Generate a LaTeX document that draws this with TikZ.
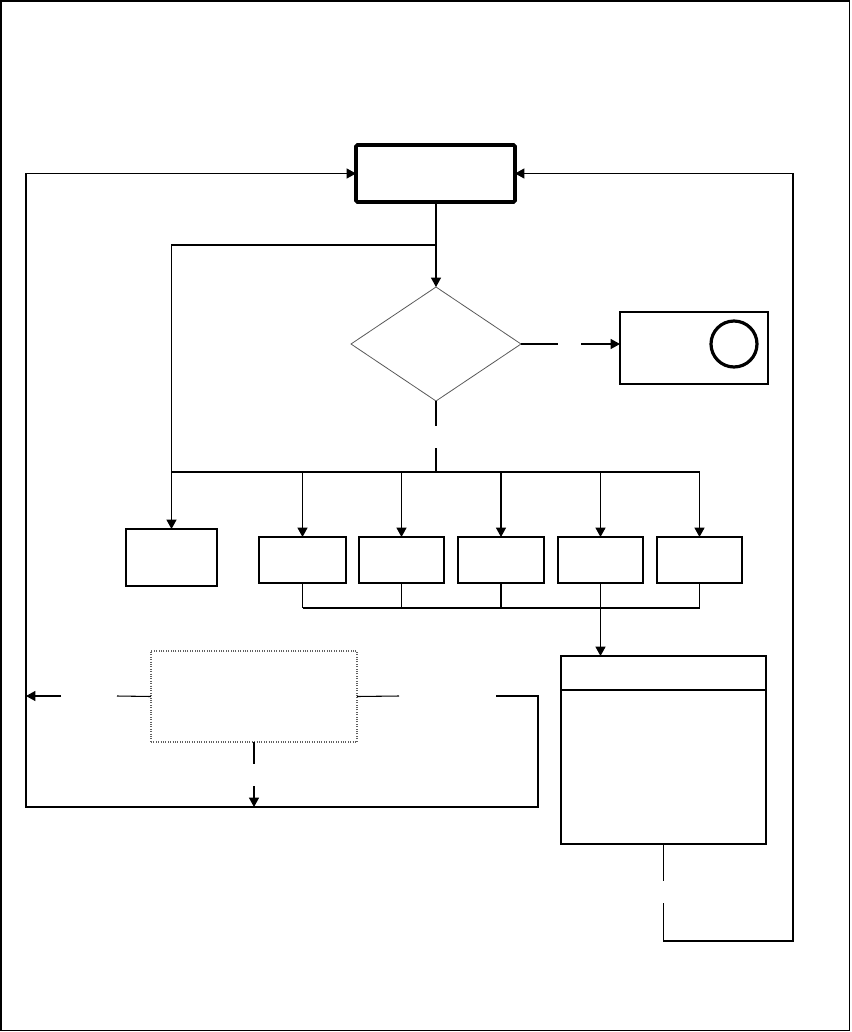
\documentclass[tikz,border=0pt]{standalone}
\usetikzlibrary{arrows.meta,fit,shapes.geometric}
\begin{document}
\begin{tikzpicture}[x=0.75pt,y=-0.75pt,
  conn/.style={line width=0.8pt},
  >={Triangle[length=7pt,width=7.5pt]},
  box/.style={draw,line width=0.8pt,inner sep=0pt,outer sep=0pt},
  thickbox/.style={draw,line width=2.7pt,inner sep=0pt,outer sep=0pt,rounded corners=1pt},
  dotbox/.style={draw=gray!75!black,densely dotted,line width=0.8pt,inner sep=0pt,outer sep=0pt},
  decision/.style={diamond,draw=gray!70!black,line width=0.6pt,inner sep=0pt,outer sep=0pt,
    minimum width=127.5pt,minimum height=85.5pt},
  ring/.style={circle,draw,line width=2.4pt,inner sep=0pt,minimum size=34.5pt}]
\useasboundingbox (0,0) rectangle (851,1032);
\draw[line width=1.1pt] (1,1) rectangle (849.5,1030.5);

% nodes
\node[thickbox,fit={(356,145) (515,202)}] (top) {};
\node[decision] (dec) at (436,344) {};
\node[box,fit={(620,312) (768,384)}] (rbox) {};
\node[ring] (ring) at (734,344) {};
\node[box,fit={(126,529) (217,586)}] (left) {};
\node[box,fit={(259,537) (346,583)}] (b1) {};
\node[box,fit={(359,537) (444,583)}] (b2) {};
\node[box,fit={(458,537) (544,583)}] (b3) {};
\node[box,fit={(558,537) (643,583)}] (b4) {};
\node[box,fit={(657,537) (742,583)}] (b5) {};
\node[box,fit={(561,656) (766,844)}] (big) {};
\node[dotbox,fit={(151,651) (357,742)}] (dot) {};

% helper coordinates
\coordinate (j1) at (436,245);
\coordinate (d1) at (436,426);
\coordinate (d2) at (436,448);
\coordinate (bus) at (436,472);
\coordinate (bus2) at (436,608);
\coordinate (div) at (600,690);
\coordinate (r1) at (558,344);
\coordinate (r2) at (581,344);
\coordinate (g1) at (663.5,881);
\coordinate (g2) at (663.5,903);
\coordinate (rr) at (793,941);
\coordinate (g3) at (496,696);
\coordinate (lb) at (538,807);
\coordinate (ll) at (26,807);
\coordinate (g4) at (61,696);
\coordinate (g5) at (117,696);
\coordinate (g6) at (399,696);
\coordinate (g7) at (254,764);
\coordinate (g8) at (254,786);

% top box to decision and left box
\draw[conn] (top.south -| j1) -- (j1);
\draw[conn,->] (j1) -- (dec.north);
\draw[conn,->] (j1) -| (left.north);

% decision to right box
\draw[conn] (dec.east) -- (r1);
\draw[conn,->] (r2) -- (rbox.west |- r2);

% decision to bus
\draw[conn] (dec.south) -- (d1);
\draw[conn] (d2) -- (bus);
\draw[conn] (left.north |- bus) -- (b5.north |- bus);
\foreach \b in {b1,b2,b3,b4,b5}
  \draw[conn,->] (\b.north |- bus) -- (\b.north);

% lower bus
\foreach \b in {b1,b2,b3,b4,b5}
  \draw[conn] (\b.south) -- (\b.south |- bus2);
\draw[conn] (b1.south |- bus2) -- (b5.south |- bus2);
\draw[conn,->] (b4.south |- bus2) -- (b4.south |- big.north);

% big box divider
\draw[conn] (big.west |- div) -- (big.east |- div);

% big box back to top
\draw[conn] (big.south) -- (g1);
\draw[conn,->] (g2) |- (rr) |- (top.east);

% dotted box connectors
\draw[conn] (dot.west) -- (g5);
\draw[conn,->] (g4) -- (ll |- g4);
\draw[conn] (dot.east) -- (g6);
\draw[conn] (dot.south) -- (g7);
\draw[conn,->] (g8) -- (g8 |- ll);
\draw[conn,->] (g3) -| (lb) -- (ll) |- (top.west);
\end{tikzpicture}
\end{document}
